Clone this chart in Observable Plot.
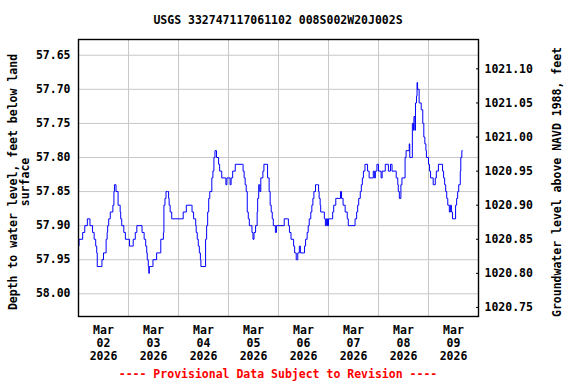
<!DOCTYPE html>
<html>
<head>
<meta charset="utf-8">
<script src="https://cdn.jsdelivr.net/npm/d3@7"></script>
<script src="https://cdn.jsdelivr.net/npm/@observablehq/plot@0.6"></script>
<style>
  html, body { margin: 0; padding: 0; background: #fff; }
</style>
</head>
<body>
<div id="chart"></div>
<script>
// ---- Data ----
const title = "USGS 332747117061102 008S002W20J002S";
const leftLabelLines = ["Depth to water level, feet below land", "surface"];
const rightLabel = "Groundwater level above NAVD 1988, feet";
const footer = "---- Provisional Data Subject to Revision ----";

// hours since 2026-03-02 00:00
const hours = [
  0, 0.25, 2, 3, 4.25, 5.5, 6.75, 7.5, 8.25, 8.75, 9, 10.75, 11.25, 12, 13.25, 13.75, 14, 14.5, 15.25, 16.5,
  17, 17.25, 18, 19, 20, 20.25, 20.75, 21.75, 22.5, 24.5, 25.75, 26.25, 27.25, 28, 30, 30.5, 31.5, 32.25, 32.75, 33,
  33.5, 33.75, 34, 35.5, 35.75, 37.5, 39.25, 39.5, 40.75, 41, 41.5, 42, 42.75, 43.25, 43.5, 44, 44.75, 50.25, 51.75, 54.25,
  54.5, 55.25, 56.25, 56.5, 57, 57.5, 58, 58.5, 58.75, 60.75, 61, 61.5, 62, 62.5, 63, 64, 64.5, 65, 65.5, 66.25,
  67.25, 67.75, 68.75, 70.5, 70.75, 71.25, 72.25, 72.75, 73.25, 74, 75.25, 78.75, 79, 79.5, 80, 80.5, 81, 81.5, 82, 83.25,
  83.75, 84.25, 85, 85.75, 86, 86.5, 87, 87.5, 88.5, 89, 90.5, 90.75, 91.5, 92, 92.5, 93, 93.5, 94.5, 95, 98.75,
  100.5, 100.75, 101.25, 102, 103.25, 103.75, 104.5, 105.25, 106, 106.5, 108.25, 108.5, 109, 109.75, 110.25, 110.75, 111.5, 112, 112.5, 113,
  113.75, 114.75, 115.25, 115.5, 116, 116.25, 118, 118.5, 119, 119.5, 120, 121.5, 122, 122.5, 123.5, 125.75, 126.25, 127, 128, 129,
  129.5, 132.25, 132.75, 133.5, 134, 134.5, 135.25, 135.75, 136.25, 136.75, 137.5, 138.75, 139.5, 141.5, 142, 142.5, 143.25, 144, 145.25, 145.75,
  147.25, 148.75, 149.75, 150.5, 152.5, 153.25, 153.5, 154, 154.75, 155.25, 156.75, 157.25, 158.75, 159, 160, 160.25, 160.75, 161, 161.5, 161.75,
  162.25, 162.5, 162.75, 163.5, 164.5, 165.25, 165.75, 166.25, 166.75, 167, 168, 168.5, 169, 170.25, 171.25, 171.75, 172.75, 174.75, 175.25, 175.75,
  176.25, 176.75, 177.25, 178, 178.5, 179, 179.5, 181, 181.5, 182, 182.5, 183.25, 183.5, 184, 184.25
];
const depth = [
  57.93, 57.92, 57.91, 57.90, 57.89, 57.90, 57.91, 57.92, 57.93, 57.94, 57.96, 57.96, 57.95, 57.94, 57.92, 57.91, 57.90, 57.89, 57.88, 57.87,
  57.85, 57.84, 57.85, 57.87, 57.88, 57.89, 57.90, 57.91, 57.92, 57.93, 57.93, 57.92, 57.91, 57.90, 57.90, 57.91, 57.92, 57.93, 57.94, 57.95,
  57.96, 57.97, 57.96, 57.96, 57.95, 57.94, 57.94, 57.92, 57.91, 57.87, 57.86, 57.85, 57.85, 57.86, 57.87, 57.88, 57.89, 57.88, 57.87, 57.87,
  57.88, 57.89, 57.90, 57.91, 57.92, 57.93, 57.94, 57.95, 57.96, 57.96, 57.92, 57.90, 57.88, 57.86, 57.85, 57.83, 57.82, 57.80, 57.79, 57.80,
  57.81, 57.82, 57.83, 57.83, 57.84, 57.83, 57.83, 57.84, 57.83, 57.82, 57.81, 57.81, 57.82, 57.83, 57.84, 57.85, 57.88, 57.89, 57.90, 57.91,
  57.92, 57.91, 57.90, 57.88, 57.86, 57.84, 57.85, 57.83, 57.82, 57.81, 57.81, 57.83, 57.85, 57.87, 57.88, 57.89, 57.90, 57.91, 57.90, 57.89,
  57.89, 57.90, 57.91, 57.92, 57.93, 57.94, 57.95, 57.94, 57.93, 57.94, 57.94, 57.93, 57.92, 57.91, 57.90, 57.89, 57.88, 57.87, 57.86, 57.85,
  57.84, 57.84, 57.85, 57.86, 57.87, 57.88, 57.89, 57.90, 57.89, 57.90, 57.89, 57.89, 57.88, 57.87, 57.86, 57.85, 57.86, 57.87, 57.88, 57.89,
  57.90, 57.90, 57.89, 57.88, 57.87, 57.86, 57.85, 57.84, 57.83, 57.82, 57.81, 57.82, 57.83, 57.82, 57.83, 57.82, 57.81, 57.82, 57.83, 57.82,
  57.81, 57.82, 57.81, 57.82, 57.83, 57.84, 57.85, 57.86, 57.84, 57.83, 57.80, 57.79, 57.78, 57.80, 57.80, 57.75, 57.76, 57.74, 57.76, 57.72,
  57.71, 57.69, 57.70, 57.72, 57.73, 57.75, 57.77, 57.78, 57.79, 57.80, 57.81, 57.82, 57.83, 57.84, 57.83, 57.82, 57.81, 57.82, 57.83, 57.84,
  57.85, 57.86, 57.87, 57.88, 57.87, 57.88, 57.89, 57.87, 57.86, 57.85, 57.84, 57.82, 57.80, 57.79, 57.79
];

const dayLabels = ["Mar\n02\n2026", "Mar\n03\n2026", "Mar\n04\n2026", "Mar\n05\n2026",
                   "Mar\n06\n2026", "Mar\n07\n2026", "Mar\n08\n2026", "Mar\n09\n2026"];
const depthTicks = [57.65, 57.70, 57.75, 57.80, 57.85, 57.90, 57.95, 58.00];
const elevTicks = [1020.75, 1020.80, 1020.85, 1020.90, 1020.95, 1021.00, 1021.05, 1021.10];
const datumOffset = 1078.77; // elevation = datumOffset - depth

// ---- Build ----
const t0 = Date.UTC(2026, 2, 2);
const H = 3600e3;
const series = hours.map((h, i) => ({t: new Date(t0 + h * H), d: depth[i]}));
const midnights = d3.range(0, 9).map(k => new Date(t0 + k * 24 * H));
const noons = dayLabels.map((_, k) => new Date(t0 + (k * 24 + 12) * H));
const labelOf = new Map(noons.map((d, k) => [+d, dayLabels[k]]));

const font = "'DejaVu Sans Mono', monospace";
const chart = Plot.plot({
  width: 576,
  height: 384,
  marginLeft: 78,
  marginRight: 98,
  marginTop: 39,
  marginBottom: 68,
  style: {fontFamily: font, fontWeight: "bold", fontSize: "11.5px", color: "black", background: "white"},
  x: {type: "utc", domain: [new Date(t0), new Date(t0 + 8 * 24 * H)]},
  y: {domain: [57.6269, 58.0333], reverse: true},
  marks: [
    Plot.gridX(midnights, {stroke: "#c8c8c8", strokeOpacity: 1, strokeWidth: 1}),
    Plot.gridY(depthTicks, {stroke: "#c8c8c8", strokeOpacity: 1, strokeWidth: 1}),
    Plot.line(series, {x: "t", y: "d", stroke: "#0000ff", strokeWidth: 1, curve: "step-after"}),
    Plot.frame({stroke: "black", strokeWidth: 1.4}),
    Plot.axisY(depthTicks, {anchor: "left", tickSize: 0, tickPadding: 8, tickFormat: d => d.toFixed(2), label: null}),
    Plot.axisY(elevTicks.map(e => datumOffset - e), {anchor: "right", tickSize: -3, tickPadding: 9,
      tickFormat: d => (datumOffset - d).toFixed(2), label: null}),
    Plot.axisX(noons, {anchor: "bottom", tickSize: 0, tickPadding: 8, lineHeight: 1.13,
      tickFormat: d => labelOf.get(+d), label: null})
  ]
});

document.getElementById("chart").appendChild(chart);

const svg = d3.select(chart);
const addText = (txt, x, y, opts = {}) => {
  const el = svg.append("text")
    .attr("x", x).attr("y", y)
    .attr("text-anchor", "middle")
    .attr("dominant-baseline", "central")
    .attr("font-family", font)
    .attr("font-weight", "bold")
    .attr("font-size", "11.5px")
    .attr("fill", opts.fill || "black")
    .text(txt);
  if (opts.rotate) el.attr("transform", `rotate(${opts.rotate} ${x} ${y})`);
  return el;
};
addText(title, 278, 20);
addText(leftLabelLines[0], 13, 182, {rotate: -90});
addText(leftLabelLines[1], 25, 182, {rotate: -90});
addText(rightLabel, 557, 182, {rotate: -90});
addText(footer, 278, 374, {fill: "#ff0000"});
</script>
</body>
</html>
